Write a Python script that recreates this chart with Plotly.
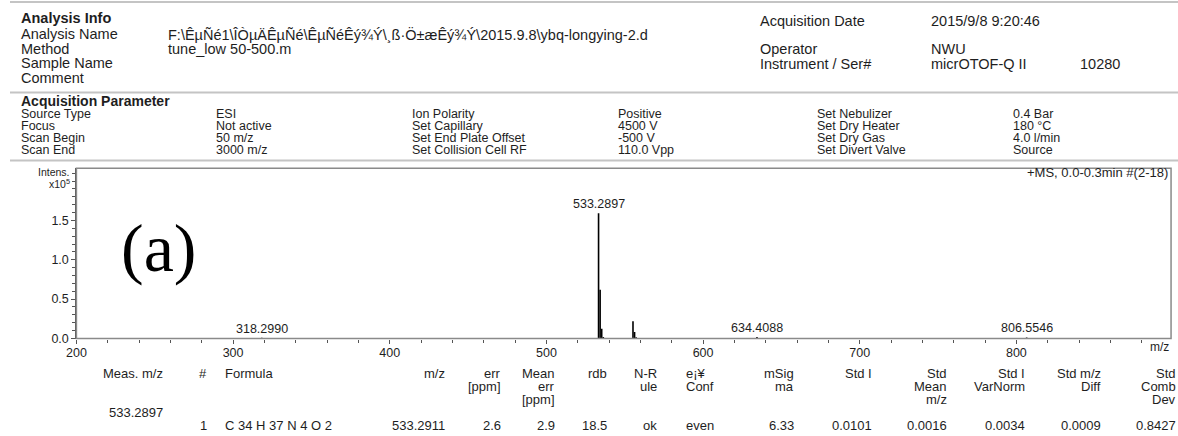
import plotly.graph_objects as go

# ---------------------------------------------------------------- data
# centroid peaks of the +MS scan: m/z and intensity (counts)
peak_mz = [318.2990, 533.2897, 534.2930, 535.2958, 536.2990,
           555.2716, 556.2749, 557.2780, 634.4088, 806.5546, 827.55, 850.52]
peak_int = [900, 159000, 62000, 12500, 1800,
            22000, 8300, 1600, 1900, 1300, 600, 700]
labeled_mz = [318.2990, 533.2897, 634.4088, 806.5546]

x_ticks = [200, 300, 400, 500, 600, 700, 800]
y_ticks = [0, 50000, 100000, 150000]
y_tick_text = ["0.0", "0.5", "1.0", "1.5"]

analysis_path = r"F:\ÊµÑé1\ÎÒµÄÊµÑé\ÊµÑéÊý¾Ý\¸ß·Ö±æÊý¾Ý\2015.9.8\ybq-longying-2.d"
info_labels = ["Analysis Name", "Method", "Sample Name", "Comment"]
info_values = [analysis_path, "tune_low 50-500.m", "", ""]
acq_labels = ["Acquisition Date", "Operator", "Instrument / Ser#"]
acq_values = ["2015/9/8 9:20:46", "NWU", "micrOTOF-Q II"]
serial_no = "10280"

param_names_1 = ["Source Type", "Focus", "Scan Begin", "Scan End"]
param_values_1 = ["ESI", "Not active", "50 m/z", "3000 m/z"]
param_names_2 = ["Ion Polarity", "Set Capillary", "Set End Plate Offset", "Set Collision Cell RF"]
param_values_2 = ["Positive", "4500 V", "-500 V", "110.0 Vpp"]
param_names_3 = ["Set Nebulizer", "Set Dry Heater", "Set Dry Gas", "Set Divert Valve"]
param_values_3 = ["0.4 Bar", "180 °C", "4.0 l/min", "Source"]

table_headers = ["Meas. m/z", "#", "Formula", "m/z", "err\n[ppm]", "Mean\nerr\n[ppm]",
                 "rdb", "N-R\nule", "e¡¥\nConf", "mSig\nma", "Std I", "Std\nMean\nm/z",
                 "Std I\nVarNorm", "Std m/z\nDiff", "Std\nComb\nDev"]
table_row = ["", "1", "C 34 H 37 N 4 O 2", "533.2911", "2.6", "2.9", "18.5", "ok", "even",
             "6.33", "0.0101", "0.0016", "0.0034", "0.0009", "0.8427"]

scan_info = "+MS, 0.0-0.3min #(2-18)"

# ---------------------------------------------------------------- layout helpers
W, H = 1178, 436
FONT = "Liberation Sans, Arial, sans-serif"
INK = "#1e1e1e"


def px(x):
    return x / W


def py(y):
    return 1 - y / H


annotations = []
shapes = []


def text(x, y, s, size=13, anchor="left", bold=False, family=FONT, color=INK):
    if s == "":
        return
    annotations.append(dict(
        x=px(x), y=py(y), xref="paper", yref="paper", text=f"<b>{s}</b>" if bold else s,
        showarrow=False, xanchor=anchor, yanchor="middle",
        font=dict(family=family, size=size, color=color), borderpad=0))


def hline(y, color="#c4c4c4", width=2):
    shapes.append(dict(type="line", xref="paper", yref="paper",
                       x0=0, x1=1, y0=py(y), y1=py(y), line=dict(color=color, width=width)))


# ---------------------------------------------------------------- header blocks
hline(2)
text(10, 18, "Analysis Info", size=14.5, bold=True)
for i, (lab, val) in enumerate(zip(info_labels, info_values)):
    y = 35 + i * 14.7
    text(10, y, lab, size=14.5)
    text(158, y, val, size=14.5)

acq_y = [21, 50, 65]
for y, lab, val in zip(acq_y, acq_labels, acq_values):
    text(755, y, lab, size=14.5)
    text(928, y, val, size=14.5)
text(1078, acq_y[2], serial_no, size=14.5)

hline(94)
text(10, 103, "Acquisition Parameter", size=14, bold=True)
param_cols = [(10, param_names_1), (207, param_values_1), (404, param_names_2),
              (612, param_values_2), (813, param_names_3), (1011, param_values_3)]
for x, col in param_cols:
    for i, s in enumerate(col):
        text(x, 116 + i * 12.2, s, size=12.5)
hline(163)

# ---------------------------------------------------------------- spectrum
plot_l, plot_r, plot_t, plot_b = 67, 1171, 171, 344
x_per_px = 1.58
x_max = 200 + (plot_r - plot_l) / x_per_px
y_per_px = 80 / 100000
y_max = (plot_b - plot_t) / y_per_px

xs, ys = [], []
for m, v in zip(peak_mz, peak_int):
    xs += [m, m, None]
    ys += [0, v, None]

fig = go.Figure(go.Scatter(x=xs, y=ys, mode="lines", line=dict(color="black", width=1.6),
                           hoverinfo="skip", showlegend=False))

# peak annotations placed on the labelled centroids
for m in labeled_mz:
    v = peak_int[peak_mz.index(m)]
    annotations.append(dict(x=m, y=v, xref="x", yref="y", text=f"{m:.4f}", showarrow=False,
                            xanchor="center", yanchor="bottom", yshift=1, borderpad=0,
                            font=dict(family=FONT, size=12.5, color=INK)))

# frame around the spectrum
shapes.append(dict(type="rect", xref="paper", yref="paper", x0=px(plot_l), x1=px(plot_r),
                   y0=py(plot_b), y1=py(plot_t), line=dict(color="#8a8a8a", width=1.5)))

text(62, 175, "Intens.", size=10.5, anchor="right")
annotations.append(dict(x=px(62), y=py(186), xref="paper", yref="paper",
                        text="x10<sup>5</sup>", showarrow=False, xanchor="right", yanchor="middle",
                        font=dict(family=FONT, size=10.5, color=INK), borderpad=0))
text(1169, 175, scan_info, size=13, anchor="right")
text(1170, 353, "m/z", size=12, anchor="right")
text(150, 252, "(a)", size=68, anchor="center", family="Liberation Serif, Times New Roman, serif",
     color="black")

# ---------------------------------------------------------------- result table
col_anchor = [(155, "right"), (195, "center"), (216, "left"), (440, "right"), (496, "right"),
              (551, "right"), (603, "right"), (654, "right"), (681, "left"), (792, "right"),
              (870, "right"), (946, "right"), (1025, "right"), (1101, "right"), (1177, "right")]
for (x, a), head, cell in zip(col_anchor, table_headers, table_row):
    for j, line in enumerate(head.split("\n")):
        text(x, 380 + j * 13, line, size=13, anchor=a)
    text(x, 432, cell, size=13, anchor=a)
text(155, 419, f"{peak_mz[1]:.4f}", size=13, anchor="right")

# ---------------------------------------------------------------- axes
fig.update_layout(
    width=W, height=H, margin=dict(l=0, r=0, t=0, b=0),
    paper_bgcolor="white", plot_bgcolor="white", hovermode=False,
    annotations=annotations, shapes=shapes,
    xaxis=dict(domain=[px(plot_l), px(plot_r)], range=[200, x_max], tickvals=x_ticks,
               ticks="outside", ticklen=4, tickcolor="#555", showline=True, linecolor="#555",
               linewidth=1.3, showgrid=False, zeroline=False, ticklabelstandoff=-2,
               tickfont=dict(family=FONT, size=12.5, color=INK),
               minor=dict(dtick=20, ticks="outside", ticklen=3, tickcolor="#555")),
    yaxis=dict(domain=[py(plot_b), py(plot_t)], range=[0, y_max], tickvals=y_ticks,
               ticktext=y_tick_text, ticks="outside", ticklen=4, tickcolor="#555",
               showline=True, linecolor="#555", linewidth=1.3, showgrid=False, zeroline=False,
               tickfont=dict(family=FONT, size=12.5, color=INK),
               minor=dict(dtick=10000, ticks="outside", ticklen=3, tickcolor="#555")),
)

fig.write_html("out.html")
